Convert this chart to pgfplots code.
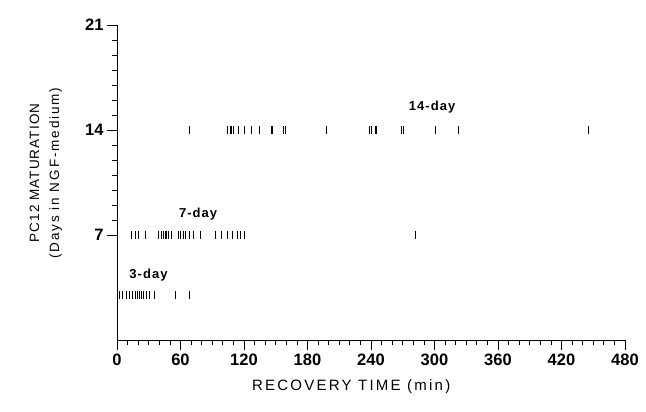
\documentclass[border=0pt]{standalone}
\usepackage{pgfplots}
\pgfplotsset{compat=1.18}
\usepackage{fontspec}
\setmainfont{Liberation Sans}
\newfontfamily\lblfont[LetterSpace=8]{Liberation Sans}
\newfontfamily\xlblfont[LetterSpace=15]{Liberation Sans}
\newfontfamily\ylblfont[LetterSpace=14]{Liberation Sans}
\begin{document}
\begin{tikzpicture}
\path[use as bounding box] (-117pt,-72pt) rectangle (529pt,340pt);
\begin{axis}[
  scale only axis, width=508pt, height=315pt,
  xmin=0, xmax=480, ymin=0, ymax=21,
  axis lines=left, axis line style={-, line width=0.9pt},
  xtick={0,60,...,480}, ytick={7,14,21},
  minor x tick num=5, minor y tick num=6,
  tick align=outside, major tick length=10pt, minor tick length=5pt,
  tick style={black, line width=0.8pt},
  /pgf/number format/assume math mode=true,
  ticklabel style={font=\fontsize{16.5}{18}\selectfont\bfseries},
  clip=false,
]
\addplot[only marks, mark=|, mark size=4pt, mark options={line width=0.9pt}] coordinates {
 (2,3) (5,3) (9,3) (12,3) (15,3) (17,3) (19,3) (21,3) (23,3) (25,3) (28,3) (31,3) (35,3) (55,3) (68,3)
};
\addplot[only marks, mark=|, mark size=4pt, mark options={line width=0.9pt}] coordinates {
 (14,7) (17,7) (20.5,7) (27,7) (39,7) (42,7) (44,7) (46,7) (47,7) (49,7) (51,7) (58,7) (60,7) (63,7) (65,7) (68,7) (72.5,7) (79,7) (93,7) (99,7) (104,7) (109,7) (114,7) (117,7) (120,7) (282,7)
};
\addplot[only marks, mark=|, mark size=4pt, mark options={line width=0.9pt}] coordinates {
 (68,14) (104,14) (107,14) (108.5,14) (110,14) (115,14) (120,14) (127,14) (134.5,14) (145.5,14) (146.5,14) (157,14) (159,14) (198,14) (238.5,14) (240.7,14) (244,14) (245.5,14) (268.5,14) (270.5,14) (300.5,14) (322.5,14) (445.5,14)
};
\node[font=\lblfont\bfseries\fontsize{13}{15}\selectfont] at (axis cs:29.8,4.33) {3-day};
\node[font=\lblfont\bfseries\fontsize{13}{15}\selectfont] at (axis cs:76.6,8.4) {7-day};
\node[font=\lblfont\bfseries\fontsize{13}{15}\selectfont] at (axis cs:297.7,15.53) {14-day};
\node[font=\xlblfont\fontsize{15}{16}\selectfont] at (axis description cs:0.461,-0.149) {RECOVERY TIME (min)};
\node[rotate=90, align=center, font=\lblfont\fontsize{13.5}{20}\selectfont] at (axis description cs:-0.14,0.53) {PC12 MATURATION\\{\ylblfont (Days in NGF-medium)}};
\end{axis}
\end{tikzpicture}
\end{document}
